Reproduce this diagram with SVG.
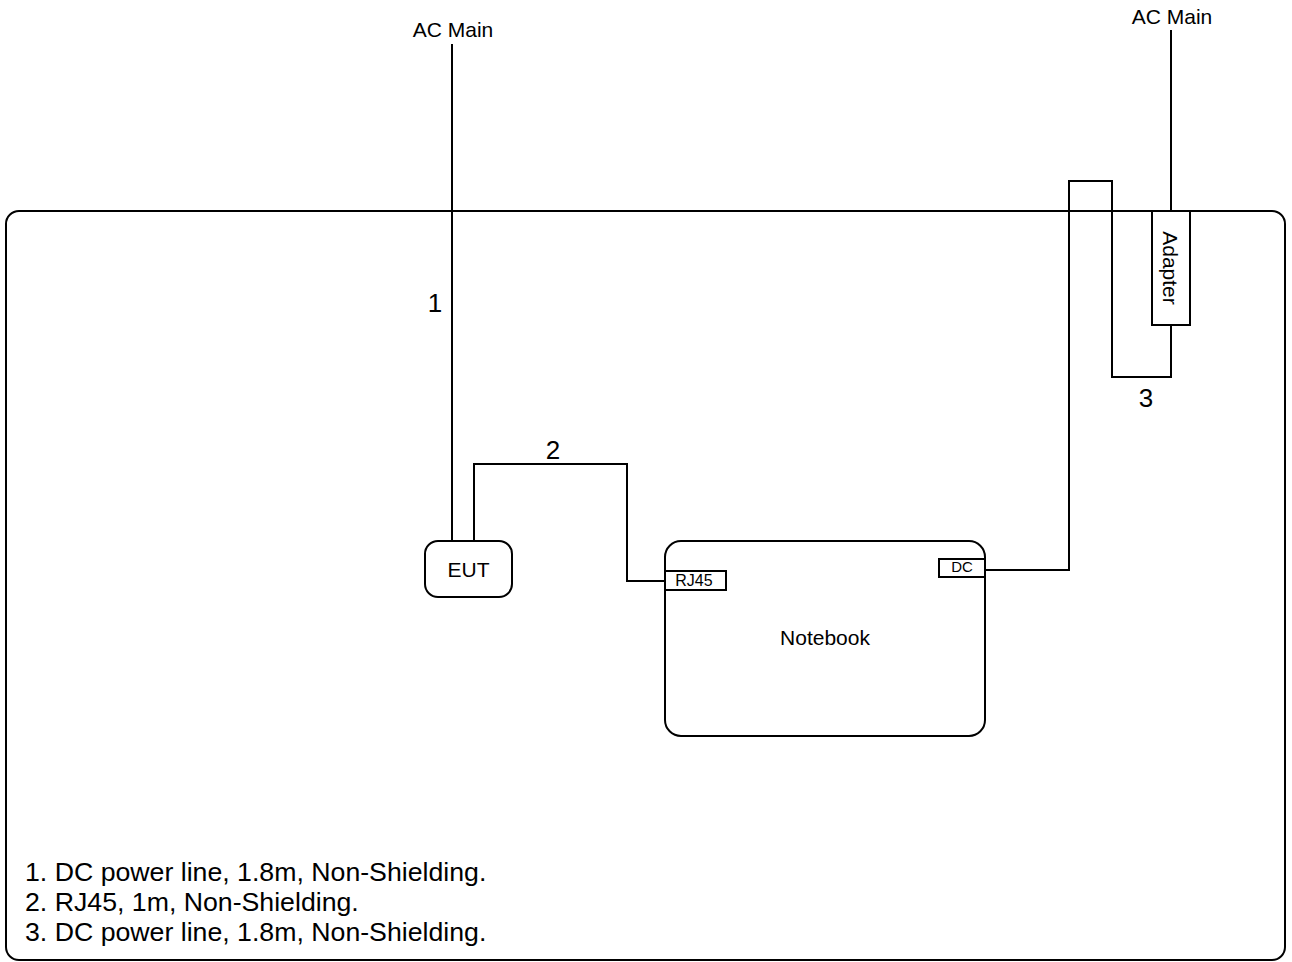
<svg xmlns="http://www.w3.org/2000/svg" width="1292" height="962" viewBox="0 0 1292 962">
<style>
.s{fill:none;stroke:#000;stroke-width:2}
.b{fill:#fff;stroke:#000;stroke-width:2}
.t{font-family:"Liberation Sans",Arial,sans-serif;fill:#000}
</style>
<rect width="1292" height="962" fill="#fff"/>
<g id="frame"><rect x="6" y="211" width="1279" height="749" rx="13" class="s"/></g>
<g id="connectors">
<path d="M452,44 V541" class="s"/>
<path d="M474,541 V464 H627 V581 H665" class="s"/>
<path d="M985,570 H1069 V181 H1112 V377 H1171 V325" class="s"/>
<path d="M1171,30 V211" class="s"/>
</g>
<g id="eut"><rect x="425" y="541" width="87" height="56" rx="13" class="b"/><text x="468.5" y="577" text-anchor="middle" font-size="21" class="t">EUT</text></g>
<g id="notebook"><rect x="665" y="541" width="320" height="195" rx="16" class="b"/><text x="825" y="645" text-anchor="middle" font-size="21" class="t">Notebook</text></g>
<g id="rj45"><rect x="665" y="571" width="61" height="19" class="b"/><text x="694" y="586" text-anchor="middle" font-size="16" class="t">RJ45</text></g>
<g id="dc"><rect x="939" y="559" width="46" height="18" class="b"/><text x="962" y="572" text-anchor="middle" font-size="15" class="t">DC</text></g>
<g id="adapter"><rect x="1152" y="211" width="38" height="114" class="b"/><text transform="translate(1163,268) rotate(90)" text-anchor="middle" font-size="21" class="t">Adapter</text></g>
<g id="labels">
<text x="453" y="37" text-anchor="middle" font-size="21" class="t">AC Main</text>
<text x="1172" y="24" text-anchor="middle" font-size="21" class="t">AC Main</text>
<text x="435" y="312" text-anchor="middle" font-size="26" class="t">1</text>
<text x="553" y="459" text-anchor="middle" font-size="26" class="t">2</text>
<text x="1146" y="407" text-anchor="middle" font-size="26" class="t">3</text>
<text x="25" y="881" font-size="26.7" class="t">1. DC power line, 1.8m, Non-Shielding.</text>
<text x="25" y="911" font-size="26.7" class="t">2. RJ45, 1m, Non-Shielding.</text>
<text x="25" y="941" font-size="26.7" class="t">3. DC power line, 1.8m, Non-Shielding.</text>
</g>
</svg>
